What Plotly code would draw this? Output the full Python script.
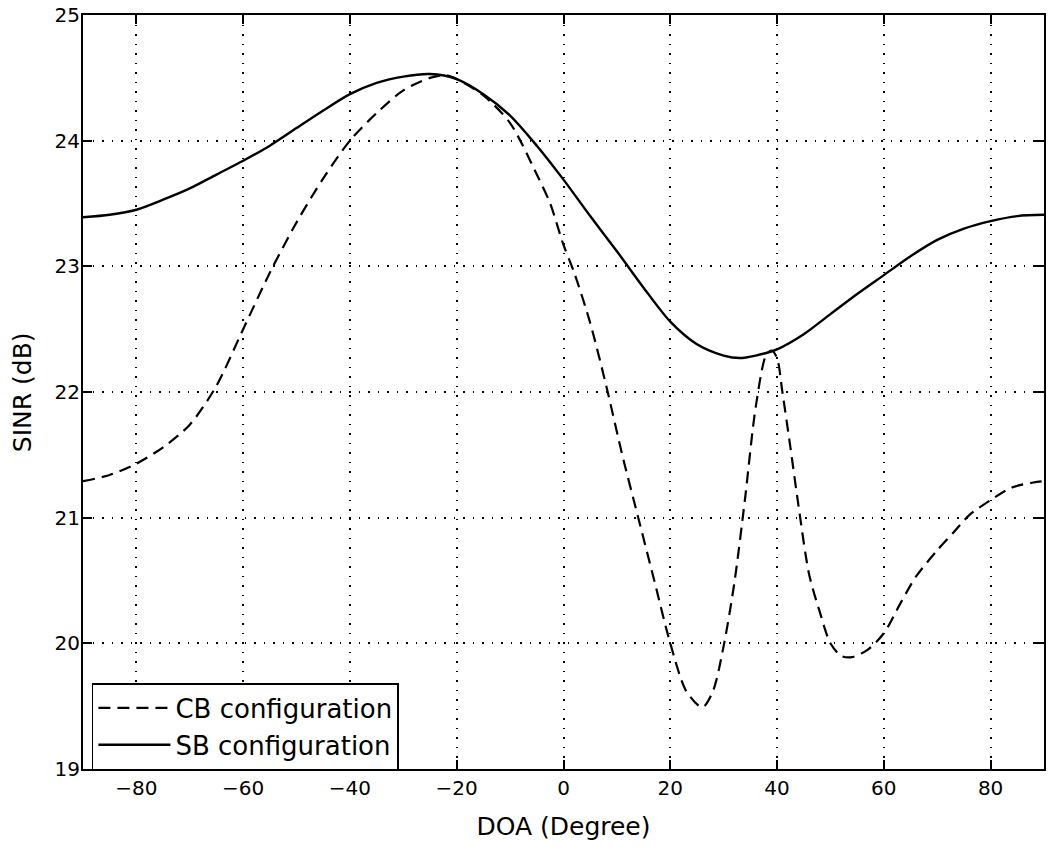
import plotly.graph_objects as go

# CB configuration (dashed)
cb_doa = [-90, -85, -80, -75, -70, -65, -60, -55, -50, -45, -40, -35, -30, -25, -22, -20,
          -15, -10, -5, -2.5, 0, 2, 5, 8, 11, 14, 17, 20, 23, 26, 28, 30, 32, 34, 36, 38,
          39, 40, 41, 42.5, 44, 46, 48, 50, 52, 54, 57, 60, 63, 66, 70, 73, 76, 80, 84, 88, 90]
cb_sinr = [21.29, 21.34, 21.43, 21.56, 21.74, 22.05, 22.5, 22.95, 23.35, 23.7, 24.0, 24.22,
           24.4, 24.5, 24.52, 24.49, 24.36, 24.14, 23.73, 23.5, 23.17, 22.95, 22.55, 22.05,
           21.5, 21.0, 20.5, 20.0, 19.62, 19.49, 19.62, 19.98, 20.48, 21.15, 21.88, 22.3,
           22.33, 22.27, 22.0, 21.56, 21.1, 20.55, 20.25, 20.0, 19.9, 19.89, 19.95, 20.08,
           20.31, 20.53, 20.74, 20.88, 21.02, 21.14, 21.24, 21.28, 21.29]

# SB configuration (solid)
sb_doa = [-90, -85, -80, -75, -70, -65, -60, -55, -50, -45, -40, -35, -30, -25, -20, -15,
          -10, -5, 0, 5, 10, 15, 20, 25, 30, 33, 36, 40, 45, 50, 55, 60, 65, 70, 75, 80, 85, 90]
sb_sinr = [23.39, 23.41, 23.45, 23.53, 23.62, 23.73, 23.84, 23.96, 24.1, 24.24, 24.37,
           24.46, 24.51, 24.53, 24.49, 24.37, 24.2, 23.96, 23.69, 23.4, 23.12, 22.83, 22.56,
           22.38, 22.29, 22.27, 22.29, 22.34, 22.46, 22.62, 22.78, 22.93, 23.08, 23.21,
           23.3, 23.36, 23.4, 23.41]

x_ticks = [-80, -60, -40, -20, 0, 20, 40, 60, 80]
y_ticks = [19, 20, 21, 22, 23, 24, 25]

FONT = "DejaVu Sans, Liberation Sans, Arial, sans-serif"

fig = go.Figure()
fig.add_trace(go.Scatter(x=cb_doa, y=cb_sinr, mode="lines", name="CB configuration",
                         line=dict(color="black", width=2.2, dash="12px,7px", shape="spline", smoothing=0.8)))
fig.add_trace(go.Scatter(x=sb_doa, y=sb_sinr, mode="lines", name="SB configuration",
                         line=dict(color="black", width=2.4, shape="spline", smoothing=0.8)))

axis_common = dict(showline=True, linecolor="black", linewidth=2, mirror="ticks",
                   ticks="inside", ticklen=9, tickwidth=2, tickcolor="black",
                   showgrid=True, gridcolor="black", gridwidth=1.5, griddash="1.5px,8px",
                   zeroline=False, tickfont=dict(family=FONT, size=20, color="black"))

fig.update_xaxes(range=[-90, 90], tickvals=x_ticks,
                 ticktext=["\u2212" + str(-v) if v < 0 else str(v) for v in x_ticks],
                 title=dict(text="DOA (Degree)", font=dict(family=FONT, size=25, color="black"), standoff=18),
                 **axis_common)
fig.update_yaxes(range=[19, 25], tickvals=y_ticks, ticklabelstandoff=-3,
                 **axis_common)

fig.update_layout(
    width=1048, height=849,
    margin=dict(l=83, r=2, t=15, b=80),
    paper_bgcolor="white", plot_bgcolor="white",
    showlegend=True,
    legend=dict(x=0.0093, y=0.114, xanchor="left", yanchor="top",
                bgcolor="white", bordercolor="black", borderwidth=1.5,
                font=dict(family=FONT, size=26, color="black"),
                itemwidth=72, tracegroupgap=0),
    annotations=[dict(text="SINR (dB)", textangle=-90, xref="paper", yref="paper",
                      x=-0.0633, y=0.5, xanchor="center", yanchor="middle", showarrow=False,
                      font=dict(family=FONT, size=25, color="black"))],
)

fig.write_html("out.html")
